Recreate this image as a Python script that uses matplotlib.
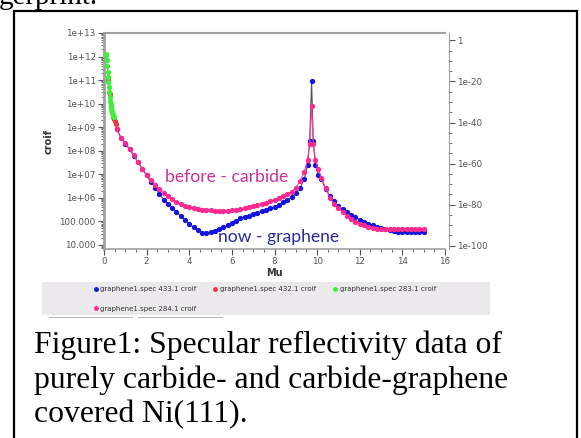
import numpy as np
import matplotlib
matplotlib.use("Agg")
import matplotlib.pyplot as plt
from matplotlib.ticker import FixedLocator, FixedFormatter, MultipleLocator, LogLocator, NullFormatter
from matplotlib.patches import Rectangle
from matplotlib.lines import Line2D

# --- data (Mu, log10 of croif) ---
mu_main = [0.6, 0.8, 1.0, 1.2, 1.4, 1.6, 1.8, 2.0, 2.2, 2.4, 2.6, 2.8, 3.0, 3.2, 3.4, 3.6, 3.8,
           4.0, 4.2, 4.4, 4.6, 4.8, 5.0, 5.2, 5.4, 5.6, 5.8, 6.0, 6.2, 6.4, 6.6, 6.8, 7.0, 7.2,
           7.4, 7.6, 7.8, 8.0, 8.2, 8.4, 8.6, 8.8, 9.0, 9.2, 9.4, 9.55, 9.65, 9.74, 9.82, 9.92,
           10.05, 10.2, 10.4, 10.6, 10.8, 11.0, 11.2, 11.4, 11.6, 11.8, 12.0, 12.2, 12.4, 12.6,
           12.8, 13.0, 13.2, 13.4, 13.6, 13.8, 14.0, 14.2, 14.4, 14.6, 14.8, 15.0]
log_433 = [8.9, 8.55, 8.3, 8.05, 7.78, 7.5, 7.22, 6.95, 6.68, 6.42, 6.16, 5.92, 5.75, 5.58, 5.40,
           5.22, 5.05, 4.88, 4.74, 4.62, 4.52, 4.50, 4.55, 4.60, 4.66, 4.75, 4.83, 4.92, 5.02,
           5.12, 5.18, 5.24, 5.31, 5.36, 5.42, 5.48, 5.55, 5.61, 5.69, 5.80, 5.90, 6.02, 6.20,
           6.42, 6.80, 7.40, 8.40, 10.94, 8.40, 7.40, 6.95, 6.80, 6.35, 6.08, 5.85, 5.65, 5.50,
           5.38, 5.26, 5.16, 5.06, 4.98, 4.90, 4.83, 4.76, 4.70, 4.66, 4.61, 4.57, 4.56, 4.56,
           4.56, 4.56, 4.56, 4.56, 4.56]
log_284 = [8.9, 8.55, 8.32, 8.08, 7.80, 7.50, 7.22, 6.97, 6.75, 6.55, 6.36, 6.20, 6.06, 5.93,
           5.82, 5.72, 5.65, 5.60, 5.56, 5.52, 5.49, 5.47, 5.46, 5.45, 5.44, 5.44, 5.44, 5.46,
           5.48, 5.52, 5.55, 5.59, 5.63, 5.68, 5.74, 5.79, 5.85, 5.92, 5.99, 6.06, 6.14, 6.26,
           6.42, 6.70, 7.10, 7.60, 8.30, 9.88, 8.30, 7.60, 7.20, 6.85, 6.40, 6.00, 5.72, 5.55,
           5.40, 5.22, 5.10, 4.97, 4.90, 4.82, 4.76, 4.72, 4.69, 4.67, 4.67, 4.67, 4.67, 4.67,
           4.67, 4.67, 4.67, 4.67, 4.67, 4.67]
mu_283 = [0.09, 0.11, 0.13, 0.15, 0.17, 0.19, 0.21, 0.23, 0.25, 0.27, 0.29, 0.31, 0.33, 0.35,
          0.37, 0.39, 0.41, 0.43, 0.45]
log_283 = [12.1, 12.05, 11.85, 11.6, 11.35, 11.12, 10.9, 10.7, 10.5, 10.3, 10.12, 9.98, 9.86,
           9.76, 9.67, 9.6, 9.53, 9.47, 9.42]
mu_432 = [0.2, 0.26, 0.32, 0.38, 0.44, 0.48, 0.52, 0.56]
log_432 = [11.0, 10.4, 9.9, 9.65, 9.45, 9.33, 9.24, 9.12]

left_ticks = [1e4, 1e5, 1e6, 1e7, 1e8, 1e9, 1e10, 1e11, 1e12, 1e13]
left_labels = ["10.000", "100.000", "1e+06", "1e+07", "1e+08", "1e+09", "1e+10", "1e+11", "1e+12", "1e+13"]
right_exp = [0, -20, -40, -60, -80, -100]
right_labels = ["1", "1e-20", "1e-40", "1e-60", "1e-80", "1e-100"]
x_ticks = [0, 2, 4, 6, 8, 10, 12, 14, 16]

W, H = 581, 438
def fx(px):
    return px / W
def fy(py):
    return 1 - py / H

fig = plt.figure(figsize=(W / 100, H / 100), dpi=100)

# outer frame and text of the page
fig.add_artist(Rectangle((fx(14), fy(460)), fx(577) - fx(14), fy(11) - fy(460),
                         fill=False, edgecolor="black", linewidth=1.6))
fig.text(fx(-1), fy(4), "gerprint.", family="Liberation Serif", fontsize=21, va="baseline", ha="left")
caption = ["Figure1: Specular reflectivity data of",
           "purely carbide- and carbide-graphene",
           "covered Ni(111)."]
for i, line in enumerate(caption):
    fig.text(fx(34), fy(353 + 34.7 * i), line, family="Liberation Serif", fontsize=22.8,
             va="baseline", ha="left")

ax = fig.add_axes([fx(104), fy(249), (445 - 104) / W, (249 - 33) / H])
axis_gray = "#a0a0a0"
tick_col = "#555555"

ax.plot(mu_main, 10 ** np.array(log_433), color="#505060", lw=0.8, marker="o", ms=2.8,
        mfc="#1515e0", mec="#1515e0", zorder=3)
ax.plot(mu_main, 10 ** np.array(log_284), color="#ff3c9a", lw=0.8, marker="o", ms=2.8,
        mfc="#ff2a8f", mec="#ff2a8f", zorder=4)
ax.plot(mu_432, 10 ** np.array(log_432), color="#e03030", lw=0.8, marker="o", ms=2.8,
        mfc="#e83a3a", mec="#e83a3a", zorder=5)
ax.plot(mu_283, 10 ** np.array(log_283), color="#40ee40", lw=0.8, marker="o", ms=2.8,
        mfc="#3cf03c", mec="#3cf03c", zorder=6)

ax.set_yscale("log")
ax.set_xlim(0, 16)
ax.set_ylim(10 ** 3.82, 1e13)
ax.yaxis.set_major_locator(FixedLocator(left_ticks))
ax.yaxis.set_major_formatter(FixedFormatter(left_labels))
ax.yaxis.set_minor_locator(LogLocator(base=10, subs=np.arange(2, 10), numticks=30))
ax.yaxis.set_minor_formatter(NullFormatter())
ax.xaxis.set_major_locator(FixedLocator(x_ticks))
ax.xaxis.set_minor_locator(MultipleLocator(0.5))
ax.tick_params(which="both", colors=tick_col, labelsize=6.3, direction="out")
ax.tick_params(which="major", length=4, width=0.8, pad=2)
ax.tick_params(which="minor", length=2.5, width=0.6)
ax.spines["right"].set_visible(False)
ax.spines["left"].set_color(axis_gray)
ax.spines["left"].set_linewidth(2)
ax.spines["bottom"].set_color(axis_gray)
ax.spines["bottom"].set_linewidth(1.2)
ax.spines["top"].set_color(axis_gray)
ax.spines["top"].set_linewidth(1.5)

ax.set_xlabel("Mu", fontsize=7, fontweight="bold", color="#333333", labelpad=1)
ax.set_ylabel("croif", fontsize=7, fontweight="bold", color="#333333", labelpad=4)

ax.text(2.86, 10 ** 6.87, "before - carbide", color="#d0309a", family="Lato", fontsize=12.6,
        va="center", ha="left")
ax.text(5.35, 10 ** 4.33, "now - graphene", color="#2a2a9a", family="Lato", fontsize=12.6,
        va="center", ha="left")

# right hand log axis
ax2 = ax.twinx()
ax2.set_yscale("log")
ax2.set_ylim(10.0 ** -101.6, 10.0 ** 3.6)
ax2.yaxis.set_major_locator(FixedLocator([10.0 ** e for e in right_exp]))
ax2.yaxis.set_major_formatter(FixedFormatter(right_labels))
ax2.yaxis.set_minor_locator(FixedLocator([10.0 ** e for e in range(-95, 0, 5) if e % 20 != 0]))
ax2.yaxis.set_minor_formatter(NullFormatter())
ax2.tick_params(which="both", colors=tick_col, labelsize=6.3, direction="out")
ax2.tick_params(which="major", length=4, width=0.8, pad=2)
ax2.tick_params(which="minor", length=2.5, width=0.6)
for s in ["left", "top", "bottom"]:
    ax2.spines[s].set_visible(False)
ax2.spines["right"].set_color(axis_gray)
ax2.spines["right"].set_position(("outward", 3))

# legend strip
fig.add_artist(Rectangle((fx(42), fy(315)), fx(490) - fx(42), fy(282) - fy(315),
                         facecolor="#ebe9eb", edgecolor="none"))
for x0, x1 in [(49, 132), (138, 222)]:
    fig.add_artist(Line2D([fx(x0), fx(x1)], [fy(317), fy(317)], color="#b8b8b8", lw=0.8))
names = ["graphene1.spec 433.1 croif", "graphene1.spec 432.1 croif",
         "graphene1.spec 283.1 croif", "graphene1.spec 284.1 croif"]
cols = ["#1515e0", "#e83a3a", "#3cf03c", "#ff2a8f"]
handles = [Line2D([], [], ls="none", marker="o", ms=2.5, mfc=c, mec=c) for c in cols]
order = [0, 3, 1, 2]
fig.legend([handles[i] for i in order], [names[i] for i in order], ncol=3,
           loc="upper left", bbox_to_anchor=(fx(90), fy(283)), frameon=False,
           fontsize=5, handlelength=0.6, handletextpad=0.4, columnspacing=2.4,
           labelspacing=1.9, borderpad=0, labelcolor="#333333")

fig.savefig("out.png", dpi=100)
